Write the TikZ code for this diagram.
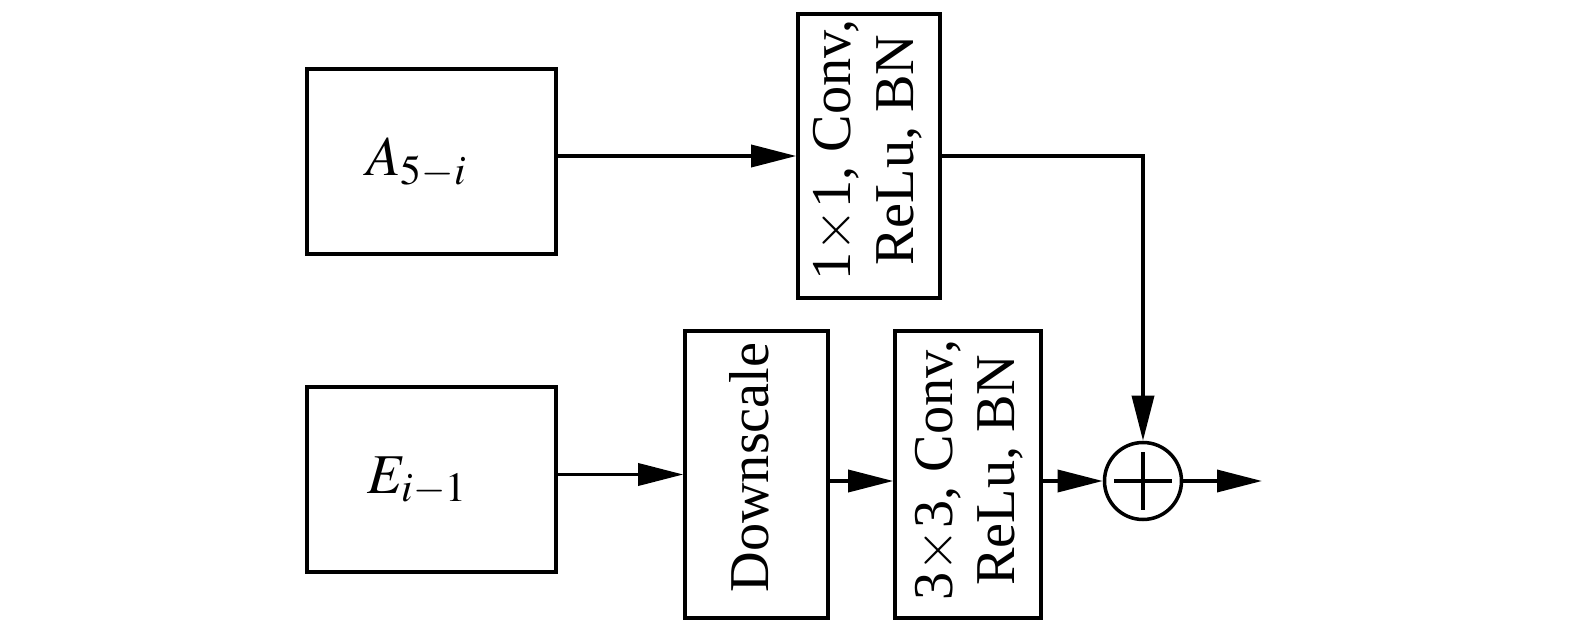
\documentclass[tikz,border=0pt]{standalone}
\usepackage{mathptmx}
\usepackage[no-math]{fontspec}
\setmainfont{Liberation Serif}
\usetikzlibrary{arrows.meta}

\begin{document}
\begin{tikzpicture}[
		blk/.style={draw, line width=1pt, inner sep=0pt},
		lbl/.style={font=\fontsize{16}{17.8}\selectfont, align=center, inner sep=0pt},
		arr/.style={line width=1pt, -{Triangle[length=4.5mm,width=2.2mm]}}
	]
		\useasboundingbox (0,0) rectangle (15.75,6.23);
		\node[blk, minimum width=2.49cm, minimum height=1.85cm] (A) at (4.315, 4.615) {};
		\node[blk, minimum width=2.49cm, minimum height=1.85cm] (E) at (4.315, 1.435) {};
		\node[blk, minimum width=1.42cm, minimum height=2.84cm] (conv1) at (8.69, 4.67) {};
		\node[blk, minimum width=1.43cm, minimum height=2.87cm] (down) at (7.565, 1.485) {};
		\node[blk, minimum width=1.46cm, minimum height=2.87cm] (conv3) at (9.68, 1.485) {};
		\node[draw, line width=1pt, circle, minimum size=0.77cm, inner sep=0pt] (sum) at (11.43, 1.42) {};
		\coordinate (out) at (12.62, 1.42);
		\draw[line width=1pt] ([xshift=-0.29cm]sum.center) -- ([xshift=0.29cm]sum.center);
		\draw[line width=1pt] ([yshift=-0.29cm]sum.center) -- ([yshift=0.29cm]sum.center);
		\node[lbl] (Atxt) at (4.17, 4.60) {$A_{5-i}$};
		\node[lbl] (Etxt) at (4.18, 1.42) {$E_{i-1}$};
		\node[lbl, rotate=90] (conv1txt) at (8.675, 4.73) {1$\times$1, Conv,\\ReLu, BN};
		\node[lbl, rotate=90] (downtxt) at (7.49, 1.555) {Downscale};
		\node[lbl, rotate=90] (conv3txt) at (9.69, 1.53) {3$\times$3, Conv,\\ReLu, BN};
		\draw[arr] (conv1.west -| A.east) -- (conv1.west);
		\draw[arr] (down.west -| E.east) -- (down.west);
		\draw[arr] (down.east |- sum) -- (conv3.west |- sum);
		\draw[arr] (conv3.east |- sum) -- (sum.west);
		\draw[arr] (conv1.east) -| (sum.north);
		\draw[arr] (sum.east) -- (out);
	\end{tikzpicture}
\end{document}
